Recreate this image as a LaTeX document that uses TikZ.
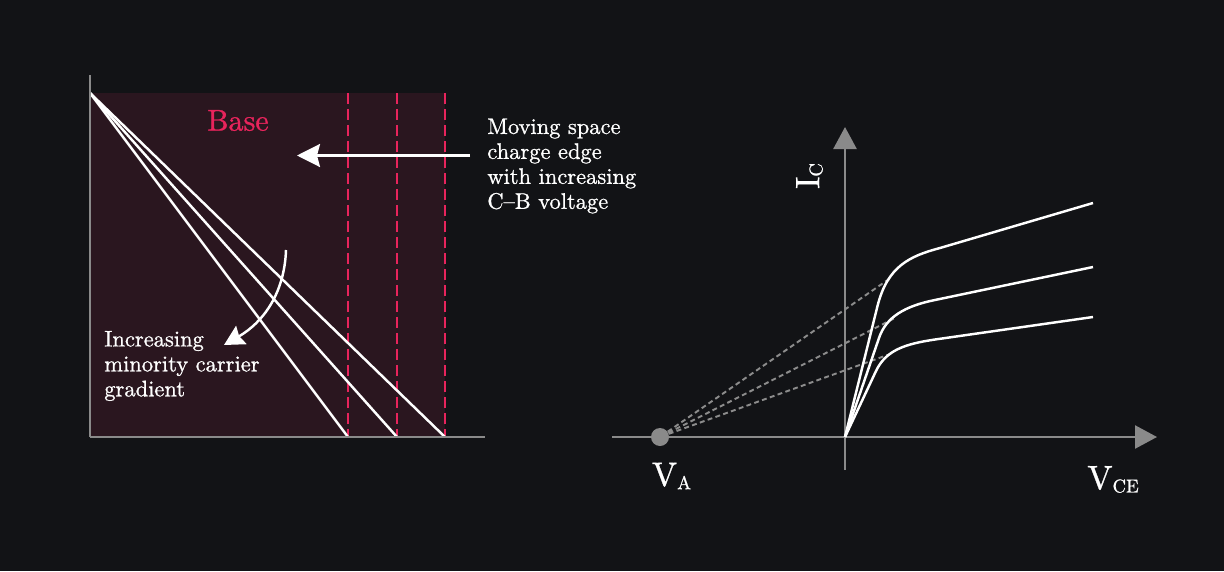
\documentclass[tikz,border=0pt]{standalone}
\usepackage{fontspec}
\setmainfont{lmroman10-regular.otf}[FakeBold=0.9]
\usepackage{tikz}
\usetikzlibrary{arrows.meta}

\definecolor{bgdark}{HTML}{121316}
\definecolor{basefill}{HTML}{2A161F}
\definecolor{edgered}{HTML}{E8245C}
\definecolor{axisgray}{HTML}{8A8A8A}
\definecolor{dashgray}{HTML}{8C8C8C}

\newcommand{\sublabel}[2]{#1\raisebox{-1.9pt}{\fontsize{10.6}{11}\selectfont #2}}

\begin{document}
\begin{tikzpicture}
\tikzset{ >={Stealth[length=4.6mm, width=4.6mm, inset=0.6mm]},
  axis/.style={axisgray, line width=1.4pt},
  edge/.style={edgered, line width=1.4pt, dash pattern=on 6.1pt off 3pt},
  profile/.style={white, line width=1.4pt},
  curve/.style={white, line width=1.4pt},
  early/.style={dashgray, line width=1.1pt, dash pattern=on 2.8pt off 1.9pt},
  note/.style={white, align=left, inner sep=0pt, font=\fontsize{12.8}{14.2}\selectfont},
  label/.style={white, font=\fontsize{19.2}{22}\selectfont},
}

\fill [bgdark] (0,0) rectangle (24.48,11.42);
\useasboundingbox (0,0) rectangle (24.48,11.42);

%\draw [lightgray, dashed](0,0) grid (24,11);

% base region
\fill [basefill] (1.80,2.68) rectangle (8.90,9.56);

\coordinate (B)  at (1.80,2.68);
\coordinate (YL) at (1.80,9.92);
\coordinate (XL) at (9.70,2.68);
\coordinate (P)  at (1.80,9.56);

\coordinate (W1) at (6.96,2.68);
\coordinate (W2) at (7.94,2.68);
\coordinate (W3) at (8.90,2.68);
\coordinate (E1) at (6.96,9.56);
\coordinate (E2) at (7.94,9.56);
\coordinate (E3) at (8.90,9.56);

\draw [edge] (E1) -- (W1);
\draw [edge] (E2) -- (W2);
\draw [edge] (E3) -- (W3);

\draw [profile] (P) -- (W1);
\draw [profile] (P) -- (W2);
\draw [profile] (P) -- (W3);

\draw [axis] (YL) -- (B);
\draw [axis] (B)  -- (XL);

\node [text=edgered, font=\fontsize{17.1}{20}\selectfont] (N) at (4.76,9.01) {Base};

\node [note, anchor=west] (M) at (9.74,8.10) {Moving space\\charge edge\\with increasing\\C--B voltage};
\coordinate (M1) at (9.40,8.31);
\coordinate (M2) at (5.94,8.31);
\draw [->, white, line width=1.4pt] (M1) -- (M2);

\node [note, anchor=west] (G) at (2.08,4.10) {Increasing\\minority carrier\\gradient};
\coordinate (G1) at (5.72,6.42);
\coordinate (G2) at (4.48,4.52);
\draw [-{Stealth[length=4mm, width=4.2mm, inset=0.5mm]}, white, line width=1.4pt]
  (G1) to [out=-92, in=30] (G2);

% output characteristic
\coordinate (O)  at (16.90,2.68);
\coordinate (XA) at (12.24,2.68);
\coordinate (XB) at (23.14,2.68);
\coordinate (YA) at (16.90,2.02);
\coordinate (YB) at (16.90,8.88);

\draw [axis, -{Triangle[length=4.4mm, width=4.6mm]}] (XA) -- (XB);
\draw [axis, -{Triangle[length=4.4mm, width=4.6mm]}] (YA) -- (YB);

\node [circle, fill=axisgray, minimum size=3.6mm, inner sep=0pt] (A) at (13.20,2.68) {};

\coordinate (T1) at (17.84,5.88);
\coordinate (T2) at (17.90,5.06);
\coordinate (T3) at (17.86,4.36);

\draw [early] (A) -- (T1);
\draw [early] (A) -- (T2);
\draw [early] (A) -- (T3);

\draw [curve] (O) -- (17.55,5.30) .. controls (17.75,6.10) and (18.20,6.30) .. (18.80,6.46) -- (21.86,7.36);
\draw [curve] (O) -- (17.58,4.66) .. controls (17.72,5.08) and (18.10,5.30) .. (18.70,5.42) -- (21.86,6.08);
\draw [curve] (O) -- (17.52,4.00) .. controls (17.72,4.42) and (18.10,4.54) .. (18.70,4.63) -- (21.86,5.08);

\node [label] (VA) at (13.43,1.90) {\sublabel{V}{A}};
\node [label] (VCE) at (22.26,1.83) {\sublabel{V}{CE}};
\node [label, rotate=90] (IC) at (16.19,7.90) {\sublabel{I}{C}};
\end{tikzpicture}
\end{document}
